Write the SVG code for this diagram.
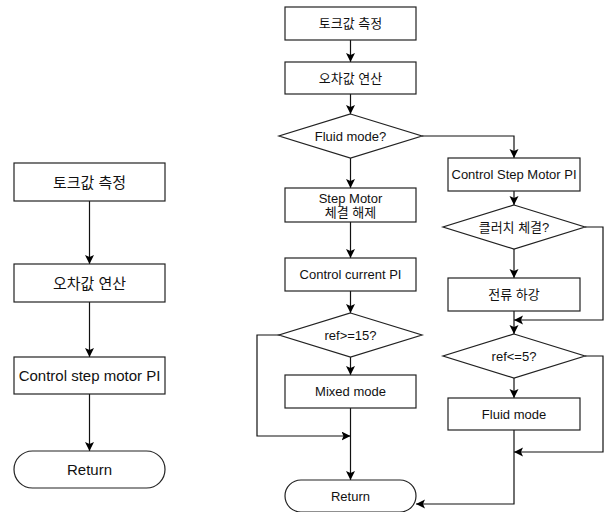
<svg xmlns="http://www.w3.org/2000/svg" width="607" height="512" viewBox="0 0 607 512">
<defs>
<marker id="arr" markerUnits="userSpaceOnUse" markerWidth="10" markerHeight="10" refX="9" refY="4.5" orient="auto">
<path d="M0,0 L9,4.5 L0,9 L2,4.5 z" fill="#000"/>
</marker>
<style>
.n{fill:#fff;stroke:#222;stroke-width:1.2}
.e{fill:none;stroke:#111;stroke-width:1.2;marker-end:url(#arr)}
.l{fill:none;stroke:#111;stroke-width:1.2}
text{font-family:"Liberation Sans","Noto Sans CJK KR",Arial,sans-serif;fill:#111;text-anchor:middle;dominant-baseline:central}
.s{font-size:13px}
.b{font-size:15px}
</style>
</defs>
<rect width="607" height="512" fill="#fff"/>
<g id="connectors">
<line class="e" x1="89.5" y1="201" x2="89.5" y2="264"/>
<line class="e" x1="89.5" y1="302" x2="89.5" y2="357"/>
<line class="e" x1="89.5" y1="394" x2="89.5" y2="451"/>
<line class="e" x1="350.5" y1="40" x2="350.5" y2="62"/>
<line class="e" x1="350.5" y1="94" x2="350.5" y2="114"/>
<line class="e" x1="350.5" y1="158" x2="350.5" y2="188"/>
<polyline class="e" points="422,136 514,136 514,158"/>
<line class="e" x1="350.5" y1="222" x2="350.5" y2="258"/>
<line class="e" x1="350.5" y1="291" x2="350.5" y2="313"/>
<line class="e" x1="350.5" y1="356" x2="350.5" y2="375"/>
<polyline class="e" points="280,335 257,335 257,436 350.5,436"/>
<line class="e" x1="350.5" y1="408" x2="350.5" y2="480"/>
<line class="e" x1="514" y1="191" x2="514" y2="205"/>
<line class="e" x1="514" y1="248" x2="514" y2="278"/>
<polyline class="e" points="585,227 603,227 603,320 514,320"/>
<line class="e" x1="514" y1="311" x2="514" y2="334"/>
<line class="e" x1="514" y1="378" x2="514" y2="398"/>
<polyline class="e" points="585,356 603,356 603,452 514,452"/>
<polyline class="e" points="514,430 514,504 416,504"/>
</g>
<g id="L1"><rect class="n" x="14" y="163" width="151" height="38"/><text class="b" x="89.5" y="182">토크값 측정</text></g>
<g id="L2"><rect class="n" x="14" y="264" width="151" height="38"/><text class="b" x="89.5" y="283">오차값 연산</text></g>
<g id="L3"><rect class="n" x="14" y="357" width="151" height="37"/><text class="b" x="89.5" y="375.5">Control step motor PI</text></g>
<g id="L4"><rect class="n" x="14" y="451" width="151" height="37" rx="18.5"/><text class="b" x="89.5" y="469.5">Return</text></g>
<g id="R1"><rect class="n" x="285" y="7" width="131" height="33"/><text class="s" x="350.5" y="23.5">토크값 측정</text></g>
<g id="R2"><rect class="n" x="285" y="62" width="131" height="32"/><text class="s" x="350.5" y="78">오차값 연산</text></g>
<g id="D1"><polygon class="n" points="350.5,114 422,136 350.5,158 279,136"/><text class="s" x="350.5" y="136">Fluid mode?</text></g>
<g id="R3"><rect class="n" x="285" y="188" width="131" height="34"/><text class="s" x="350.5" y="198">Step Motor</text><text class="s" x="350.5" y="212">체결 해제</text></g>
<g id="R4"><rect class="n" x="285" y="258" width="131" height="33"/><text class="s" x="350.5" y="274.5">Control current PI</text></g>
<g id="D2"><polygon class="n" points="350.5,313 422,335 350.5,357 279,335"/><text class="s" x="350.5" y="335">ref&gt;=15?</text></g>
<g id="R5"><rect class="n" x="285" y="375" width="131" height="33"/><text class="s" x="350.5" y="391.5">Mixed mode</text></g>
<g id="R6"><rect class="n" x="285" y="480" width="131" height="32" rx="16"/><text class="s" x="350.5" y="496.5">Return</text></g>
<g id="S1"><rect class="n" x="448" y="158" width="132" height="33"/><text class="s" x="514" y="174.5">Control Step Motor PI</text></g>
<g id="D3"><polygon class="n" points="514,205 585,227 514,249 443,227"/><text class="s" x="514" y="227">클러치 체결?</text></g>
<g id="S2"><rect class="n" x="448" y="278" width="132" height="33"/><text class="s" x="514" y="294.5">전류 하강</text></g>
<g id="D4"><polygon class="n" points="514,334 585,356 514,378 443,356"/><text class="s" x="514" y="356">ref&lt;=5?</text></g>
<g id="S3"><rect class="n" x="448" y="398" width="132" height="32"/><text class="s" x="514" y="414">Fluid mode</text></g>
</svg>
